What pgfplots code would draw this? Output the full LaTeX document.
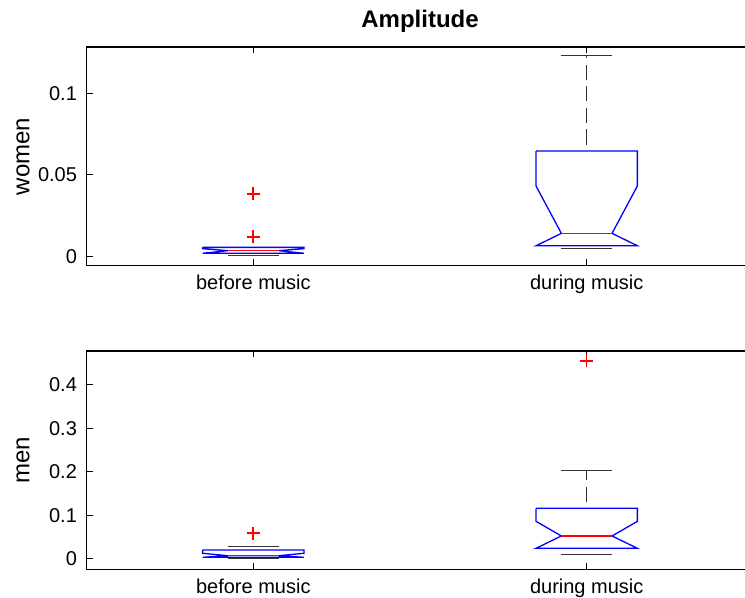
\documentclass[border=0pt]{standalone}
\usepackage{pgfplots}
\pgfplotsset{compat=1.18}
\usepackage{fontspec}
\setmainfont{Liberation Sans}
\definecolor{mblue}{rgb}{0,0,1}
\definecolor{mred}{rgb}{1,0,0}
\definecolor{mgray}{rgb}{0.2,0.2,0.2}
\pgfplotsset{
  whisk/.style={mgray, line width=0.55pt, dash pattern=on 7.6pt off 3.2pt, dash phase=7.6pt},
  whcap/.style={mgray, line width=0.5pt},
  bx/.style={mblue, line width=0.65pt},
  medline/.style={color=mred, line width=0.8pt},
  out/.style={only marks, mark=+, mark size=3.25pt, color=mred, mark options={line width=0.6pt}},
  mbox/.style={
    scale only axis, width=333.4pt, anchor=south west,
    xmin=0.5, xmax=2.5, xtick={1,2}, xticklabels={before music,during music},
    scaled y ticks=false,
    tick align=inside, major tick length=3.25pt,
    tick style={black, line width=0.5pt},
    axis line style={black, line width=0.6pt},
    ticklabel style={font=\fontsize{10}{12}\selectfont},
    xticklabel style={yshift=-1.3pt},
    yticklabel style={xshift=-1.3pt},
    label style={font=\fontsize{12}{14}\selectfont},
    ylabel style={at={(axis description cs:-0.0954,0.5)}, anchor=center},
  }
}
\begin{document}
\begin{tikzpicture}
% ---------------- top: women ----------------
\begin{axis}[mbox, at={(43.3pt,166.15pt)}, height=109.35pt,
  ymin=-0.0056, ymax=0.1283,
  ytick={0,0.05,0.1}, yticklabels={0,0.05,0.1},
  ylabel={women},
  title={Amplitude},
  title style={at={(axis description cs:0.5,1)}, anchor=center, yshift=6.65pt,
    font=\bfseries\fontsize{12}{14}\selectfont},
]
% before music
\addplot[whisk] coordinates {(1,0.0056) (1,0.0056)};
\addplot[whisk] coordinates {(1,0.0020) (1,0.0009)};
\addplot[whcap] coordinates {(0.924,0.0056) (1.076,0.0056)};
\addplot[whcap] coordinates {(0.924,0.0009) (1.076,0.0009)};
\addplot[bx] coordinates {(0.848,0.0056) (0.848,0.0048) (0.924,0.0036) (0.848,0.0020)
  (1.152,0.0020) (1.076,0.0036) (1.152,0.0048) (1.152,0.0056) (0.848,0.0056)};
\addplot[medline] coordinates {(0.924,0.0036) (1.076,0.0036)};
\addplot[out, mark options={line width=0.8pt}] coordinates {(1,0.0383) (1,0.0121)};
% during music
\addplot[whisk] coordinates {(2,0.0646) (2,0.1228)};
\addplot[whisk] coordinates {(2,0.0066) (2,0.0050)};
\addplot[whcap] coordinates {(1.924,0.1228) (2.076,0.1228)};
\addplot[whcap] coordinates {(1.924,0.0050) (2.076,0.0050)};
\addplot[bx] coordinates {(1.848,0.0646) (1.848,0.0432) (1.924,0.0142) (1.848,0.0066)
  (2.152,0.0066) (2.076,0.0142) (2.152,0.0432) (2.152,0.0646) (1.848,0.0646)};
\addplot[medline] coordinates {(1.924,0.0142) (2.076,0.0142)};
\end{axis}
% ---------------- bottom: men ----------------
\begin{axis}[mbox, at={(43.3pt,14.35pt)}, height=109.15pt,
  ymin=-0.0244, ymax=0.4782,
  ytick={0,0.1,0.2,0.3,0.4}, yticklabels={0,0.1,0.2,0.3,0.4},
  ylabel={men},
]
% before music
\addplot[whisk] coordinates {(1,0.0200) (1,0.0276)};
\addplot[whisk] coordinates {(1,0.0032) (1,0.0003)};
\addplot[whcap] coordinates {(0.924,0.0276) (1.076,0.0276)};
\addplot[whcap] coordinates {(0.924,0.0003) (1.076,0.0003)};
\addplot[bx] coordinates {(0.848,0.0200) (0.848,0.0124) (0.924,0.0069) (0.848,0.0032)
  (1.152,0.0032) (1.076,0.0069) (1.152,0.0124) (1.152,0.0200) (0.848,0.0200)};
\addplot[medline] coordinates {(0.924,0.0069) (1.076,0.0069)};
\addplot[out, mark options={line width=0.8pt}] coordinates {(1,0.0585)};
% during music
\addplot[whisk] coordinates {(2,0.1160) (2,0.2042)};
\addplot[whisk] coordinates {(2,0.0239) (2,0.0101)};
\addplot[whcap] coordinates {(1.924,0.2042) (2.076,0.2042)};
\addplot[whcap] coordinates {(1.924,0.0101) (2.076,0.0101)};
\addplot[bx] coordinates {(1.848,0.1160) (1.848,0.0860) (1.924,0.0523) (1.848,0.0239)
  (2.152,0.0239) (2.076,0.0523) (2.152,0.0860) (2.152,0.1160) (1.848,0.1160)};
\addplot[medline] coordinates {(1.924,0.0523) (2.076,0.0523)};
\addplot[out] coordinates {(2,0.4552)};
\end{axis}
\pgfresetboundingbox
\useasboundingbox (0,0) rectangle (372.5pt,299pt);
\end{tikzpicture}
\end{document}
